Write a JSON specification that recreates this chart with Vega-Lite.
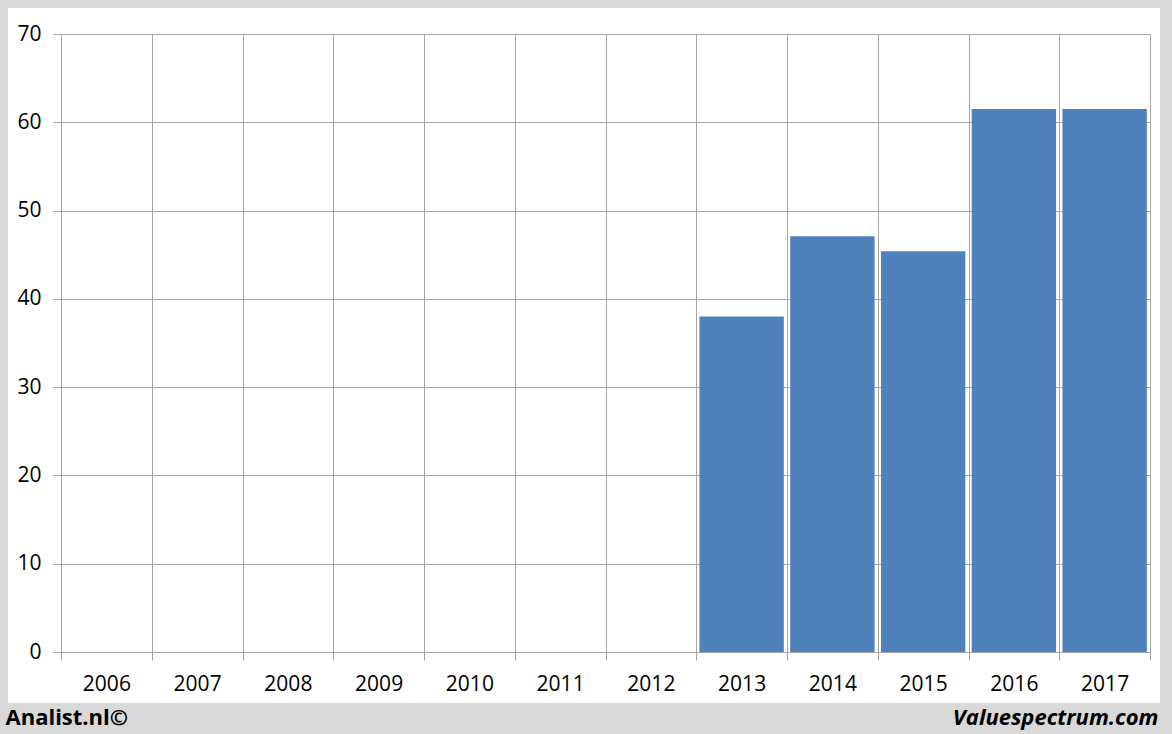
{
  "$schema": "https://vega.github.io/schema/vega-lite/v6.json",
  "width": 1152,
  "height": 695,
  "autosize": "none",
  "padding": {"left": 8, "top": 8, "right": 12, "bottom": 31},
  "background": "#d9d9d9",
  "view": {"fill": "white", "stroke": null},
  "data": {
    "values": [
      {"year": "2006", "value": null},
      {"year": "2007", "value": null},
      {"year": "2008", "value": null},
      {"year": "2009", "value": null},
      {"year": "2010", "value": null},
      {"year": "2011", "value": null},
      {"year": "2012", "value": null},
      {"year": "2013", "value": 38.0},
      {"year": "2014", "value": 47.1},
      {"year": "2015", "value": 45.4},
      {"year": "2016", "value": 61.5},
      {"year": "2017", "value": 61.5}
    ]
  },
  "layer": [
    {
      "mark": {"type": "bar", "color": "#4f81bd", "width": {"band": 0.93}},
      "encoding": {
        "x": {
          "field": "year",
          "type": "ordinal",
          "scale": {
            "domain": ["2006", "2007", "2008", "2009", "2010", "2011", "2012", "2013", "2014", "2015", "2016", "2017"],
            "range": [53, 1142],
            "paddingInner": 0,
            "paddingOuter": 0
          },
          "axis": {
            "orient": "top",
            "grid": true,
            "tickBand": "extent",
            "gridColor": "#a6a6a6",
            "labels": false,
            "ticks": false,
            "domain": false,
            "title": "Valuespectrum.com",
            "titleFont": "Open Sans",
            "titleFontSize": 22,
            "titleFontWeight": "bold",
            "titleFontStyle": "italic",
            "titleColor": "black",
            "titleAnchor": "end",
            "titleAlign": "right",
            "titleBaseline": "middle",
            "titleAngle": 0,
            "titleX": 1150,
            "titleY": 709
          }
        },
        "y": {
          "field": "value",
          "type": "quantitative",
          "scale": {"domain": [0, 70], "range": [644, 26], "nice": false},
          "axis": {
            "title": null,
            "offset": -53,
            "values": [0, 10, 20, 30, 40, 50, 60, 70],
            "grid": true,
            "gridColor": "#a6a6a6",
            "tickColor": "#a6a6a6",
            "tickSize": 8,
            "domain": false,
            "labelFont": "Open Sans",
            "labelFontSize": 21,
            "labelColor": "black",
            "labelPadding": 12
          }
        }
      }
    },
    {
      "mark": {"type": "bar", "opacity": 0, "width": {"band": 0.93}},
      "encoding": {
        "x": {
          "field": "year",
          "type": "ordinal",
          "scale": {
            "domain": ["2006", "2007", "2008", "2009", "2010", "2011", "2012", "2013", "2014", "2015", "2016", "2017"],
            "range": [53, 1142],
            "paddingInner": 0,
            "paddingOuter": 0
          },
          "axis": {
            "orient": "bottom",
            "offset": -51,
            "labelAngle": 0,
            "tickBand": "extent",
            "grid": false,
            "tickColor": "#a6a6a6",
            "tickSize": 8,
            "domain": false,
            "labelFont": "Open Sans",
            "labelFontSize": 21,
            "labelColor": "black",
            "labelPadding": 13,
            "title": "Analist.nl©",
            "titleFont": "Open Sans",
            "titleFontSize": 22,
            "titleFontWeight": "bold",
            "titleColor": "black",
            "titleAnchor": "start",
            "titleAlign": "left",
            "titleBaseline": "middle",
            "titleX": -3,
            "titleY": 65
          }
        },
        "y": {
          "field": "value",
          "type": "quantitative"
        }
      }
    }
  ],
  "resolve": {"axis": {"x": "independent"}}
}
